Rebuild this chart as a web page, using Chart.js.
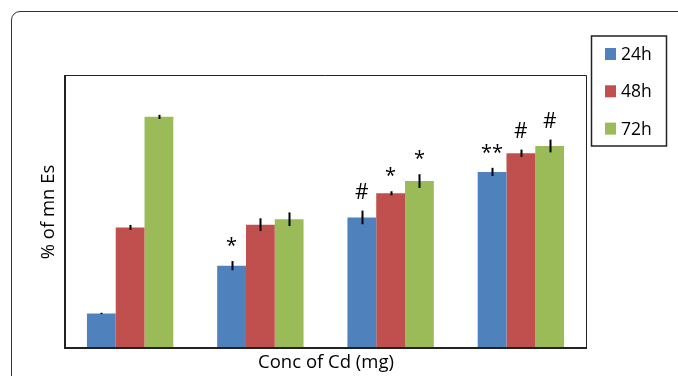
<!DOCTYPE html>
<html>
<head>
<meta charset="utf-8">
<script src="https://cdn.jsdelivr.net/npm/chart.js@4.4.1/dist/chart.umd.min.js"></script>
<style>
  html, body { margin: 0; padding: 0; background: #fff; }
  #wrap { position: relative; width: 678px; height: 376px; overflow: hidden; }
  #frame { position: absolute; left: 11px; top: 11px; width: 720px; height: 420px;
           border: 1px solid #333; border-radius: 9px; box-sizing: border-box; }
  canvas { position: absolute; left: 0; top: 0; }
</style>
</head>
<body>
<div id="wrap">
  <div id="frame"></div>
  <canvas id="c" width="678" height="376"></canvas>
</div>
<script>
const categories = ["0", "1", "2", "3"];
const seriesLabels = ["24h", "48h", "72h"];
const values24 = [7.6, 18.1, 28.7, 38.7];
const values48 = [26.5, 27.1, 34.0, 42.8];
const values72 = [50.8, 28.3, 36.7, 44.4];
const err24 = [0.15, 1.0, 1.5, 0.9];
const err48 = [0.55, 1.4, 0.45, 0.8];
const err72 = [0.45, 1.5, 1.5, 1.4];
const marks24 = ["", "*", "#", "**"];
const marks48 = ["", "", "*", "#"];
const marks72 = ["", "", "*", "#"];
const xTitle = "Conc of Cd (mg)";
const yTitle = "% of mn Es";

const colors = ["#4F81BD", "#C0504D", "#9BBB59"];
const FONT = "'Open Sans', 'Noto Sans', sans-serif";

const decor = {
  id: 'decor',
  afterDatasetsDraw(chart) {
    const ctx = chart.ctx;
    const a = chart.chartArea;
    const yS = chart.scales.y;
    ctx.save();
    // error bars and significance marks
    chart.data.datasets.forEach((ds, di) => {
      const meta = chart.getDatasetMeta(di);
      meta.data.forEach((bar, i) => {
        const v = ds.data[i], e = ds.err[i];
        const yTop = yS.getPixelForValue(v + e);
        const yBot = yS.getPixelForValue(v - e);
        ctx.strokeStyle = '#000';
        ctx.lineWidth = 2;
        ctx.beginPath();
        ctx.moveTo(Math.round(bar.x) + 0.5, yTop);
        ctx.lineTo(Math.round(bar.x) + 0.5, Math.max(yBot, yTop + 1));
        ctx.stroke();
        const m = ds.marks[i];
        if (m) {
          ctx.fillStyle = '#000';
          ctx.textAlign = 'center';
          ctx.textBaseline = 'alphabetic';
          if (m.indexOf('*') >= 0) {
            ctx.font = "20px " + FONT;
            ctx.fillText(m, bar.x, yTop - 9);
          } else {
            ctx.font = "21px " + FONT;
            ctx.fillText(m, bar.x, yTop - 12);
          }
        }
      });
    });
    // plot frame
    ctx.strokeStyle = '#222';
    ctx.lineWidth = 1;
    ctx.beginPath();
    ctx.moveTo(a.left, a.top + 0.5);
    ctx.lineTo(a.right + 0.5, a.top + 0.5);
    ctx.lineTo(a.right + 0.5, a.bottom);
    ctx.stroke();
    ctx.lineWidth = 2;
    ctx.beginPath();
    ctx.moveTo(a.left, a.top);
    ctx.lineTo(a.left, a.bottom);
    ctx.lineTo(a.right + 1, a.bottom);
    ctx.stroke();
    // axis titles
    ctx.fillStyle = '#000';
    ctx.font = "18.5px " + FONT;
    ctx.textAlign = 'center';
    ctx.textBaseline = 'middle';
    ctx.fillText(xTitle, 326, 363);
    ctx.save();
    ctx.translate(49, 212);
    ctx.rotate(-Math.PI / 2);
    ctx.fillText(yTitle, 0, 0);
    ctx.restore();
    // legend
    ctx.strokeStyle = '#222';
    ctx.lineWidth = 1.5;
    ctx.strokeRect(591.5, 36, 75, 110);
    ctx.font = "17.5px " + FONT;
    ctx.textAlign = 'left';
    chart.data.datasets.forEach((ds, di) => {
      const cy = 54 + di * 37.3;
      ctx.fillStyle = ds.backgroundColor;
      ctx.fillRect(605, cy - 6, 11, 12);
      ctx.fillStyle = '#000';
      ctx.fillText(ds.label, 621, cy + 1);
    });
    ctx.restore();
  }
};

new Chart(document.getElementById('c'), {
  type: 'bar',
  data: {
    labels: categories,
    datasets: [
      { label: seriesLabels[0], data: values24, err: err24, marks: marks24, backgroundColor: colors[0] },
      { label: seriesLabels[1], data: values48, err: err48, marks: marks48, backgroundColor: colors[1] },
      { label: seriesLabels[2], data: values72, err: err72, marks: marks72, backgroundColor: colors[2] }
    ]
  },
  options: {
    responsive: false,
    animation: false,
    devicePixelRatio: 1,
    layout: { padding: { left: 65, right: 92, top: 75, bottom: 28 } },
    datasets: { bar: { categoryPercentage: 0.663, barPercentage: 1.0, borderWidth: 0 } },
    plugins: { legend: { display: false }, tooltip: { enabled: false } },
    scales: {
      x: { display: false },
      y: { display: false, min: 0, max: 60 }
    }
  },
  plugins: [decor]
});
</script>
</body>
</html>
